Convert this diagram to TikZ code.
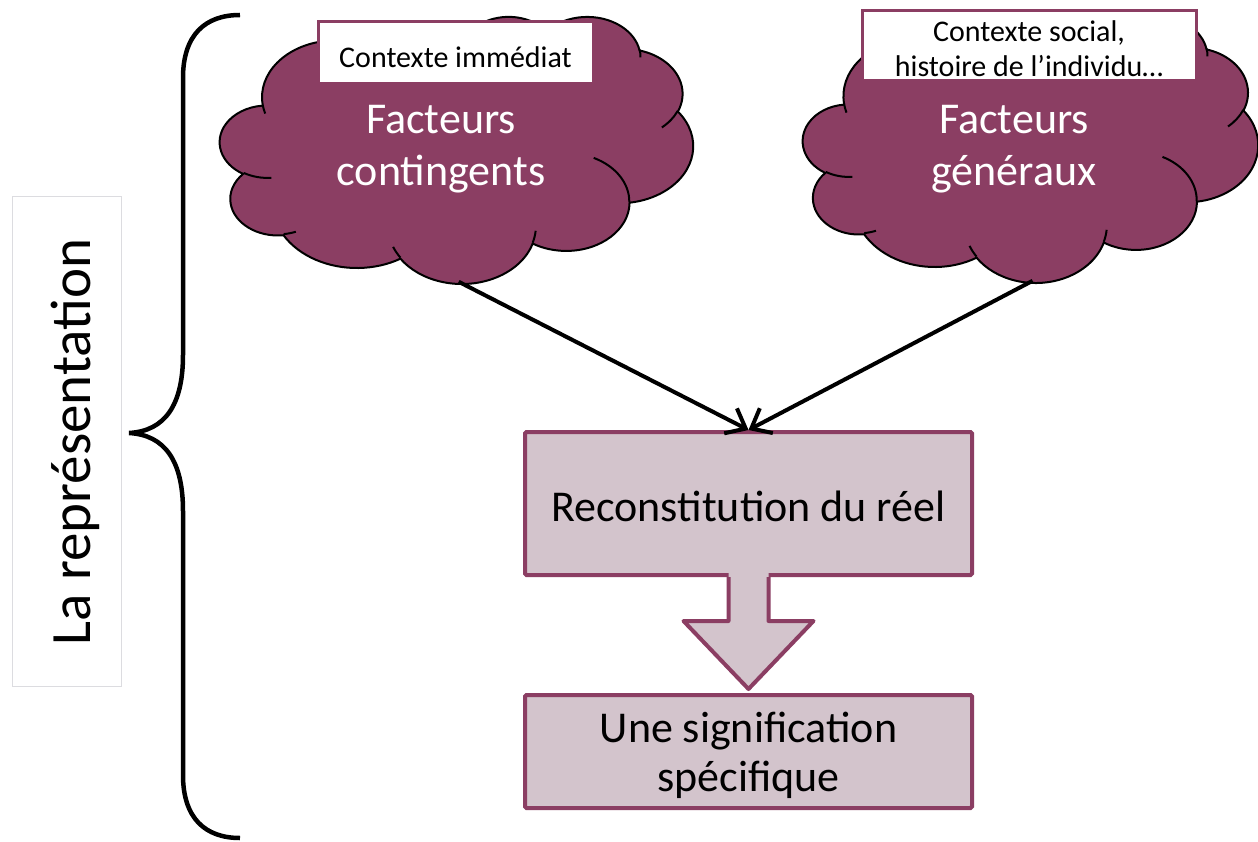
\documentclass[tikz,border=0pt]{standalone}
\usepackage{fontspec}
\setmainfont{Carlito}
\usetikzlibrary{arrows.meta}
\definecolor{plum}{RGB}{139,62,99}
\definecolor{mauve}{RGB}{211,196,204}
\definecolor{framegray}{RGB}{220,220,224}

% cloud outline on a 4320 x 4320 grid (y pointing down); each arc is given by
% its radii, the ray angle where it starts and its sweep
\newcommand{\cloudoutline}{(390,1437)
  arc[x radius=675.3,y radius=919,start angle={pa(675.3,919,-190.4875)},delta angle={pd(675.3,919,-190.4875,123.7805)}]
  arc[x radius=533.3,y radius=726.7,start angle={pa(533.3,726.7,-144.1024)},delta angle={pd(533.3,726.7,-144.1024,89.9452)}]
  arc[x radius=436.5,y radius=594.5,start angle={pa(436.5,594.5,-145.8079)},delta angle={pd(436.5,594.5,-145.8079,99.7230)}]
  arc[x radius=485.7,y radius=659.5,start angle={pa(485.7,659.5,-130.9861)},delta angle={pd(485.7,659.5,-130.9861,117.2417)}]
  arc[x radius=533.3,y radius=727.3,start angle={pa(533.3,727.3,-78.7089)},delta angle={pd(533.3,727.3,-78.7089,109.0269)}]
  arc[x radius=677.5,y radius=922,start angle={pa(677.5,922,-46.2673)},delta angle={pd(677.5,922,-46.2673,130.2690)}]
  arc[x radius=578.5,y radius=786.7,start angle={pa(578.5,786.7,0.6250)},delta angle={pd(578.5,786.7,0.6250,114.0333)}]
  arc[x radius=675.2,y radius=921.5,start angle={pa(675.2,921.5,22.4516)},delta angle={pd(675.2,921.5,22.4516,115.1726)}]
  arc[x radius=772,y radius=1054.3,start angle={pa(772,1054.3,66.2426)},delta angle={pd(772,1054.3,66.2426,75.7110)}]
  arc[x radius=436,y radius=591.8,start angle={pa(436,591.8,-274.9421)},delta angle={pd(436,591.8,-274.9421,146.7356)}]
  arc[x radius=434.5,y radius=594.5,start angle={pa(434.5,594.5,-246.8285)},delta angle={pd(434.5,594.5,-246.8285,152.5189)}]
  -- cycle}
% the short creases inside the cloud
\newcommand{\cloudcreases}{
  (469.3,2617.7) arc[x radius=434.5,y radius=594.5,start angle={pa(434.5,594.5,86.7420)},delta angle={pd(434.5,594.5,86.7420,26.4295)}]
  (692.8,3489.9) arc[x radius=436,y radius=591.8,start angle={pa(436,591.8,73.6105)},delta angle={pd(436,591.8,73.6105,11.4475)}]
  (1647.8,3909.0) arc[x radius=675.2,y radius=921.5,start angle={pa(675.2,921.5,137.6242)},delta angle={pd(675.2,921.5,137.6242,14.0811)}]
  (2882.7,3475.1) arc[x radius=675.2,y radius=921.5,start angle={pa(675.2,921.5,6.4533)},delta angle={pd(675.2,921.5,6.4533,15.9984)}]
  (3412.9,2295.4) arc[x radius=578.5,y radius=786.7,start angle={pa(578.5,786.7,-70.2924)},delta angle={pd(578.5,786.7,-70.2924,70.9174)}]
  (4179.8,1535.4) arc[x radius=533.3,y radius=727.3,start angle={pa(533.3,727.3,30.3180)},delta angle={pd(533.3,727.3,30.3180,27.7515)}]
  (3832.4,542.6) arc[x radius=485.7,y radius=659.5,start angle={pa(485.7,659.5,-13.7443)},delta angle={pd(485.7,659.5,-13.7443,14.8589)}]
  (2907.8,395.2) arc[x radius=485.7,y radius=659.5,start angle={pa(485.7,659.5,-149.1815)},delta angle={pd(485.7,659.5,-149.1815,18.1954)}]
  (2214.1,472.0) arc[x radius=436.5,y radius=594.5,start angle={pa(436.5,594.5,-163.4943)},delta angle={pd(436.5,594.5,-163.4943,17.6864)}]
  (1400.0,519.2) arc[x radius=675.3,y radius=919,start angle={pa(675.3,919,-66.7070)},delta angle={pd(675.3,919,-66.7070,12.3194)}]
  (412.7,1578.9) arc[x radius=675.3,y radius=919,start angle={pa(675.3,919,157.6544)},delta angle={pd(675.3,919,157.6544,11.8582)}]}

\begin{document}
\begin{tikzpicture}[x=1pt,y=-1pt,
  declare function={
    pa(\rw,\rh,\ang)=atan2(\rw*sin(\ang),\rh*cos(\ang));
    pd(\rw,\rh,\ang,\swp)=pa(\rw,\rh,\ang+\swp)-pa(\rw,\rh,\ang)
      -360*round((pa(\rw,\rh,\ang+\swp)-pa(\rw,\rh,\ang)-\swp)/360);
  },
  puff/.style={draw=black, line width=2pt, fill=plum},
  crease/.style={draw=black, line width=2pt},
  tag/.style={draw=plum, line width=3pt, fill=white, inner sep=0pt},
  small/.style={font=\fontsize{30}{35}\selectfont, align=center},
  big/.style={font=\fontsize{44}{52}\selectfont, align=center},
  stepbox/.style={draw=plum, line width=4pt, fill=mauve, rounded corners=1.5pt, inner sep=0pt},
  steptext/.style={font=\fontsize{44}{49}\selectfont, align=center},
  link/.style={line width=4pt, -{Straight Barb[length=17pt, width=28pt]}}
]
\useasboundingbox (0,0) rectangle (1258,842);

% framed vertical title
\node[draw=framegray, line width=1pt, minimum width=109pt, minimum height=489pt,
  inner sep=0pt] (frame) at (66.5,441.5) {};
\node[rotate=90, font=\fontsize{57}{66}\selectfont] (title) at (75,442) {La représentation};

% curly brace
\draw[line width=4.5pt] (240,15) .. controls (205,15) and (183,35) .. (183,78)
  -- (183,355) .. controls (183,405) and (165,431) .. (129,433)
  .. controls (165,435) and (183,461) .. (183,511)
  -- (183,775) .. controls (183,818) and (205,838) .. (240,838);

% clouds
\begin{scope}[shift={(220,16)}, x=0.109491pt, y=-0.061806pt]
  \draw[puff] \cloudoutline;
  \draw[crease] \cloudcreases;
  \coordinate (c1bot) at (2180,4300);
\end{scope}
\begin{scope}[shift={(803,15)}, x=0.105324pt, y=-0.061806pt]
  \draw[puff] \cloudoutline;
  \draw[crease] \cloudcreases;
  \coordinate (c2bot) at (2180,4300);
\end{scope}

\node[tag, minimum width=275pt, minimum height=62pt] (t1) at (455.5,53) {};
\node[small] (l1) at (t1.center) [yshift=-4pt] {Contexte immédiat};
\node[tag, minimum width=334pt, minimum height=70pt] (t2) at (1029,46) {};
\node[small] (l2) at (t2.center) [yshift=-3pt] {Contexte social,\\histoire de l’individu…};

\node[big, text=white] (f1) at (441,149) {Facteurs\\contingents};
\node[big, text=white] (f2) at (1014,149) {Facteurs\\généraux};

% process boxes
\node[stepbox, minimum width=447pt, minimum height=143pt] (r) at (748.5,503.5) {};
\node[steptext] (rt) at (748.5,506.5) {Reconstitution du réel};
\node[stepbox, minimum width=447pt, minimum height=113pt] (s) at (748.5,751.5) {};
\node[steptext] (st) at (748.5,755.5) {Une signification\\spécifique};

% block arrow between the boxes
\begin{scope}[shift={(r.south)}]
  \fill[mauve] (-20,-4) -- (-20,44) -- (-65,44) -- (0,112) -- (65,44) -- (20,44) -- (20,-4) -- cycle;
  \draw[plum, line width=4pt, line join=round] (-20,0) -- (-20,44) -- (-65,44)
    -- (0,112) -- (65,44) -- (20,44) -- (20,0);
\end{scope}

% connectors
\draw[link] (c1bot) -- (r.north);
\draw[link] (c2bot) -- (r.north);
\end{tikzpicture}
\end{document}
